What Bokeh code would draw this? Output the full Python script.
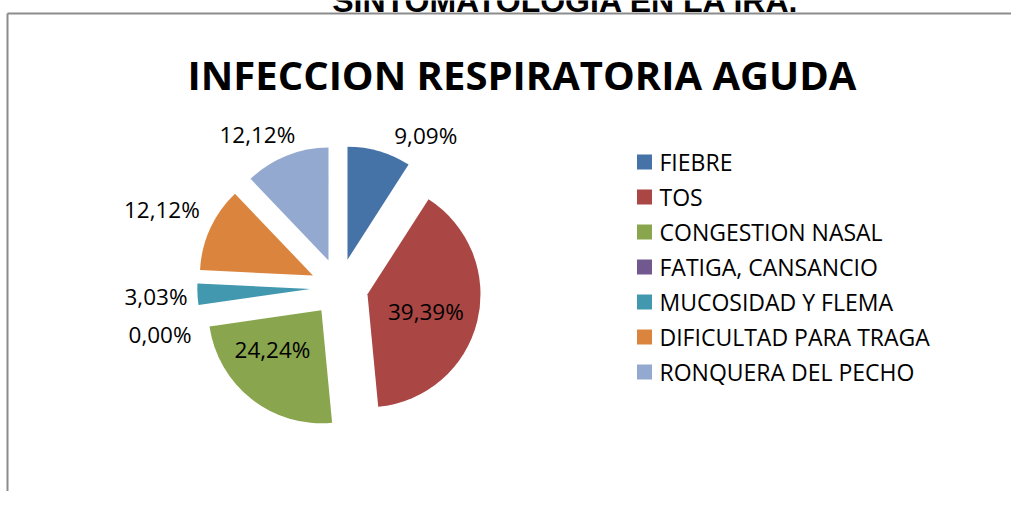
import math
from bokeh.plotting import figure
from bokeh.models import Range1d, ColumnDataSource
from bokeh.core.properties import value
from bokeh.embed import file_html
from bokeh.resources import INLINE

# ---------------- data ----------------
categories = ["FIEBRE", "TOS", "CONGESTION NASAL", "FATIGA, CANSANCIO",
              "MUCOSIDAD Y FLEMA", "DIFICULTAD PARA TRAGA", "RONQUERA DEL PECHO"]
percent = [9.09, 39.39, 24.24, 0.00, 3.03, 12.12, 12.12]
colors = ["#4572A7", "#AA4643", "#89A54E", "#71588F", "#4198AF", "#DB843D", "#93A9CF"]
chart_title = "INFECCION RESPIRATORIA AGUDA"
page_title = "SINTOMATOLOGIA EN LA IRA."

# ---------------- layout ----------------
W, H = 1011, 491
OFF = 0


def sx(x):
    return x - OFF


def sy(y):
    return H + OFF - y


CX, CY = sx(338.8), sy(287.0)
R = 113
EXPLODE = 29
# per-label nudges (screen px, dy downward), Excel "best fit" placement
label_nudge = [(38, 13), (-2, 2.5), (-10.5, -10), (-9, 22.5), (-11.5, 1), (-21, -7), (-18, 7)]

FONT = "Open Sans"

p = figure(width=W, height=H, x_range=Range1d(0, W), y_range=Range1d(0, H),
           output_backend="svg", toolbar_location=None, min_border=0,
           x_axis_location=None, y_axis_location=None)
p.grid.visible = False
p.outline_line_color = None
p.background_fill_color = "white"
p.border_fill_color = "white"

# chart frame (top and left edges visible)
p.segment(x0=[7], y0=[sy(13)], x1=[W], y1=[sy(13)], line_color="#8c8c8c", line_width=2)
p.segment(x0=[7], y0=[sy(13)], x1=[7], y1=[0], line_color="#8c8c8c", line_width=2)

# cut-off page heading above the chart (clipped like in the source document)
p.text(x=[sx(565.5)], y=[sy(18)], text=[page_title], text_align="center",
       text_baseline="bottom", text_font=value("Liberation Sans"),
       text_font_style="bold", text_font_size="32px", text_color="black")

# ---------------- pie ----------------
total = sum(percent)
wx, wy, ws, we, wc = [], [], [], [], []
lx, ly, lt = [], [], []
cum = 0.0
for i, v in enumerate(percent):
    f0 = cum / total
    cum += v
    f1 = cum / total
    a_start = math.pi / 2 - 2 * math.pi * f1
    a_end = math.pi / 2 - 2 * math.pi * f0
    mid = (a_start + a_end) / 2
    cxi = CX + EXPLODE * math.cos(mid)
    cyi = CY + EXPLODE * math.sin(mid)
    if v > 0:
        wx.append(cxi)
        wy.append(cyi)
        ws.append(a_start)
        we.append(a_end)
        wc.append(colors[i])
    dist = EXPLODE + (0.55 * R if v > 20 else R + 30)
    nx, ny = label_nudge[i]
    lx.append(CX + dist * math.cos(mid) + nx)
    ly.append(CY + dist * math.sin(mid) - ny)
    lt.append(f"{v:.2f}%".replace(".", ","))

src = ColumnDataSource(dict(x=wx, y=wy, s=ws, e=we, c=wc))
p.wedge(x="x", y="y", radius=R, start_angle="s", end_angle="e",
        fill_color="c", line_color=None, source=src)

p.text(x=lx, y=ly, text=lt, text_align="center", text_baseline="middle",
       text_font=value(FONT), text_font_size="22.5px", text_color="black")

# title
p.text(x=[sx(521.5)], y=[sy(74)], text=[chart_title], text_align="center",
       text_baseline="middle", text_font=value(FONT), text_font_style="bold",
       text_font_size="40px", text_color="black")

# ---------------- legend ----------------
leg_y = [sy(161.5 + 35 * i) for i in range(len(categories))]
p.scatter(x=[sx(644)] * len(categories), y=leg_y, marker="square", size=15,
          fill_color=colors, line_color=None)
p.text(x=[sx(659)] * len(categories), y=leg_y, text=categories, text_align="left",
       text_baseline="middle", text_font=value(FONT), text_font_size="23px",
       text_color="black")

open("out.html", "w").write(file_html(p, INLINE))
